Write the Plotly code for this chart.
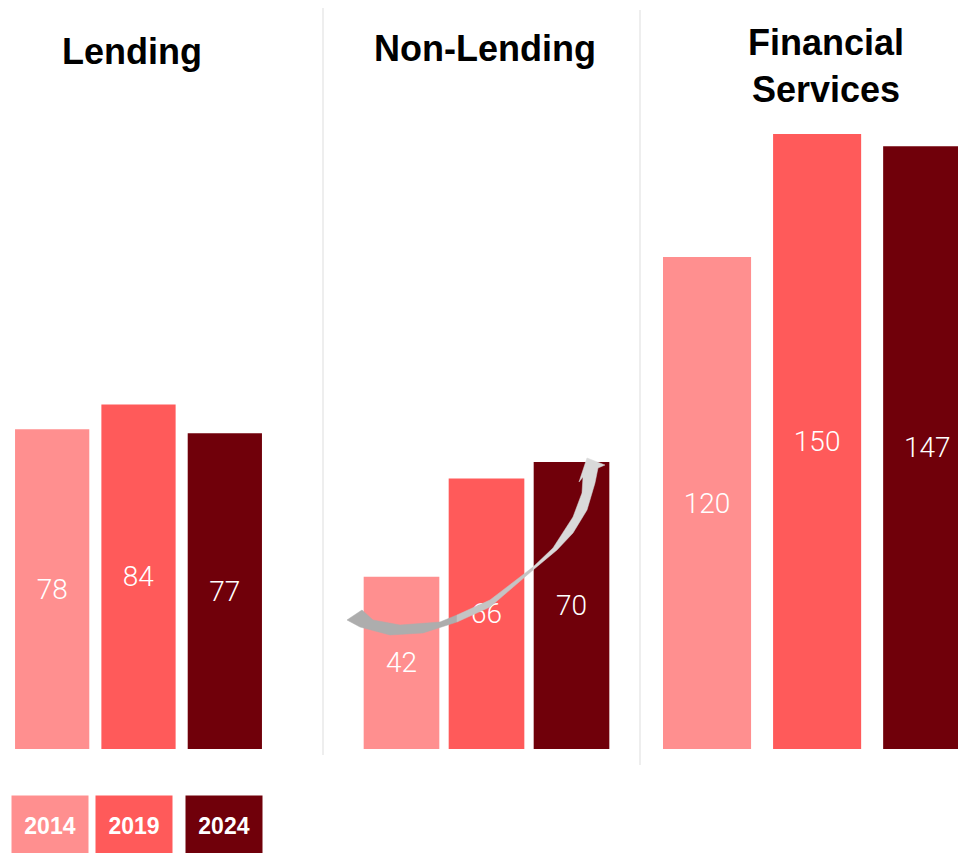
import plotly.graph_objects as go

# ── Data ───────────────────────────────────────────────
years = ["2014", "2019", "2024"]
panels = ["Lending", "Non-Lending", "Financial<br>Services"]
lending = [78, 84, 77]
non_lending = [42, 66, 70]
financial = [120, 150, 147]

# ── Style ──────────────────────────────────────────────
# the page body keeps its default 8px margin, so the figure is drawn
# 8px in from the window edge; positions below are window pixels
OFF = 8
W, H = 966 - OFF, 853 - OFF
COLORS = ["#ff8f8f", "#ff5a5a", "#70000a"]
_TITLE_FONT = dict(family="Liberation Sans, Arial, sans-serif", size=36, color="#000000")
_VALUE_FONT = dict(family="Roboto, Liberation Sans, sans-serif", size=28,
                   color="#ffffff", weight=300)


def px(x):
    return (x - OFF) / W


def py(y):
    return 1 - (y - OFF) / H


fig = go.Figure()

series = [lending, non_lending, financial]
axes = ["x", "x2", "x3"]
bar_w = [0.86, 0.89, 0.8]
for vals, ax, bw in zip(series, axes, bar_w):
    fig.add_trace(
        go.Bar(
            x=years,
            y=vals,
            xaxis=ax,
            yaxis="y",
            width=bw,
            marker=dict(color=COLORS, line=dict(width=0)),
            text=[str(v) for v in vals],
            textposition="inside",
            insidetextanchor="middle",
            textfont=_VALUE_FONT,
            textangle=0,
            hoverinfo="skip",
            showlegend=False,
        )
    )

_X = dict(visible=False, fixedrange=True)
fig.update_layout(
    width=W,
    height=H,
    margin=dict(t=0, b=0, l=0, r=0),
    paper_bgcolor="white",
    plot_bgcolor="white",
    xaxis=dict(**_X, domain=[px(9), px(268)], range=[-0.5, 2.5]),
    xaxis2=dict(**_X, domain=[px(359), px(614)], range=[-0.5, 2.5]),
    xaxis3=dict(**_X, domain=[px(652), px(958)], range=[-0.5, 2.28]),
    yaxis=dict(visible=False, domain=[py(749), 1.0], range=[0, (749 - OFF) / 4.1]),
    uniformtext=dict(minsize=10, mode="show"),
)

# panel titles
title_x = [132, 485, 826]
title_y = [52, 48, 66]
for t, x, y in zip(panels, title_x, title_y):
    fig.add_annotation(
        text=f"<b>{t}</b>", x=px(x), y=py(y), xref="paper", yref="paper",
        xanchor="center", yanchor="middle", showarrow=False, font=_TITLE_FONT,
    )

# separators
for x, y0, y1 in [(323, 8, 755), (640, 10, 765)]:
    fig.add_shape(type="line", xref="paper", yref="paper",
                  x0=px(x), x1=px(x), y0=py(y0), y1=py(y1),
                  line=dict(color="#dddddd", width=1))

# legend boxes
leg_x = [50, 134, 224]
for yr, c, x in zip(years, COLORS, leg_x):
    fig.add_annotation(
        text=f"<b>{yr}</b>", x=px(x), y=py(825), xref="paper", yref="paper",
        xanchor="center", yanchor="middle", showarrow=False,
        width=76, height=59, bgcolor=c, borderpad=0,
        font=dict(family="Liberation Sans, Arial, sans-serif", size=23, color="white"),
    )


# curved growth arrow (decoration, window pixels), drawn in three
# pieces to fake the dark-to-light gradient
def path(pts):
    s = " L".join(f"{px(x):.5f},{py(y):.5f}" for x, y in pts)
    return "M" + s + " Z"


seg1 = [(347, 620), (360, 627), (390, 635), (423, 633), (457, 622),
        (457, 615), (440, 622), (400, 625), (373, 620), (362, 610)]
seg2 = [(457, 622), (490, 607), (533, 570),
        (533, 567), (490, 600), (457, 615)]
seg3 = [(533, 570), (557, 550), (573, 533), (587, 510), (595, 483), (598, 468),
        (605, 465), (587, 458), (579, 482), (583, 477),
        (582, 493), (573, 517), (553, 548), (533, 567)]
for seg, col in [(seg1, "#adadad"), (seg2, "#c4c4c4"), (seg3, "#d9d9d9")]:
    fig.add_shape(type="path", path=path(seg), xref="paper", yref="paper",
                  fillcolor=col, line=dict(width=0.5, color=col), layer="above")

fig.write_html("out.html")
